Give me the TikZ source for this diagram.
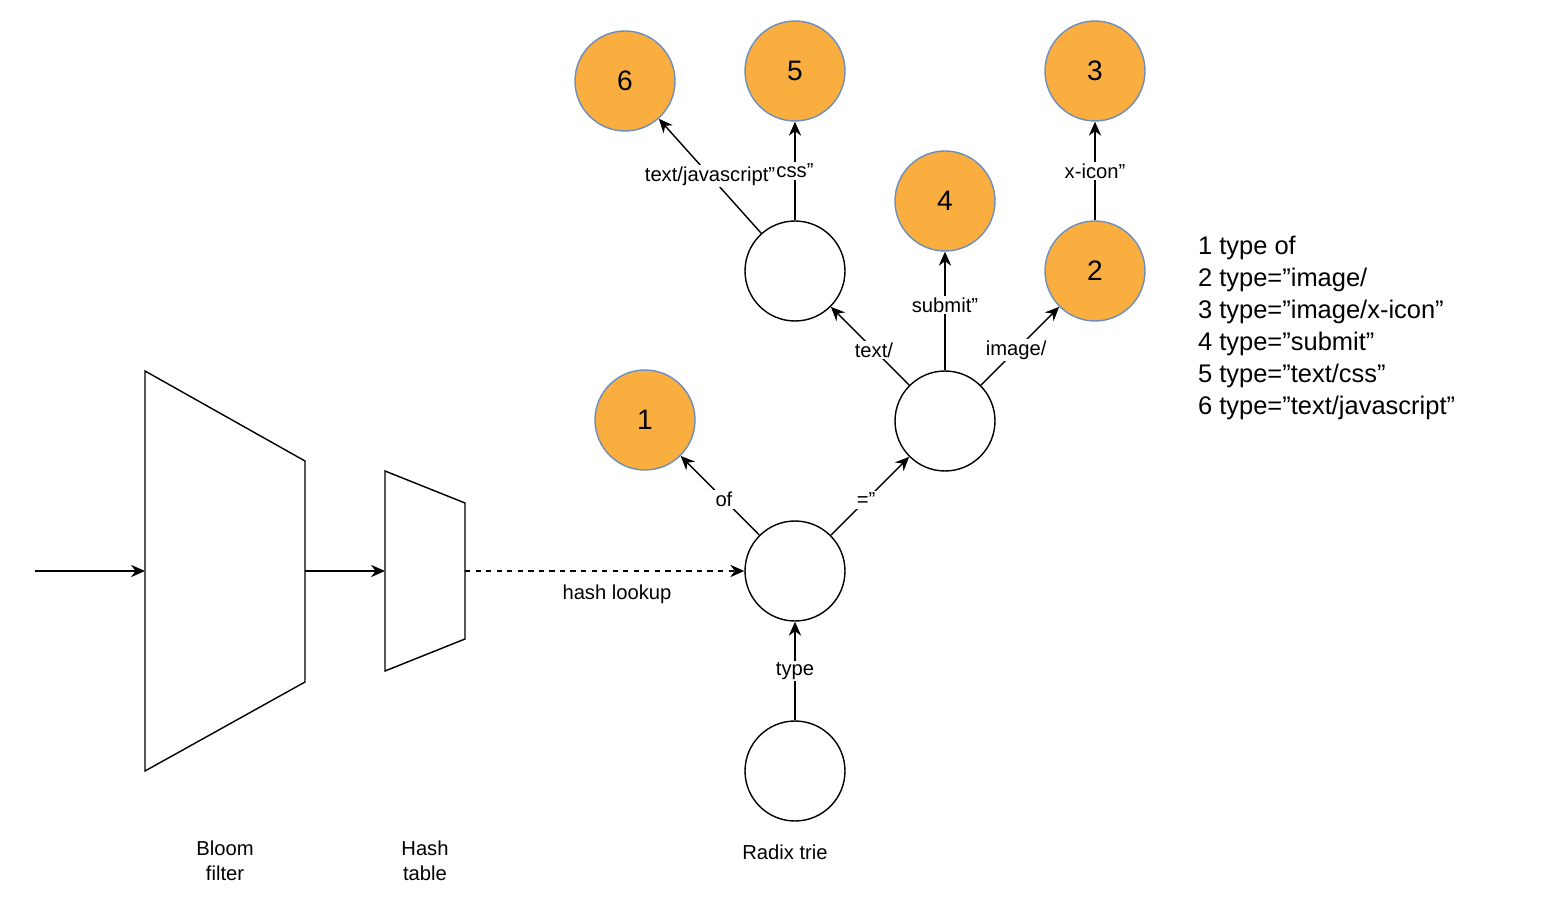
\documentclass[tikz,border=0pt]{standalone}
\usepackage{fontspec}
\setmainfont{Liberation Sans}
\usetikzlibrary{arrows.meta}
\definecolor{leaforange}{HTML}{F9AE3F}
\definecolor{leafedge}{HTML}{6C8EBF}
\begin{document}
\begin{tikzpicture}[x=0.02cm,y=-0.02cm]
\tikzset{every node/.style={inner sep=1pt},
  trie/.style={circle,draw=black,thick,fill=white,minimum size=2cm},
  leaf/.style={circle,draw=leafedge,thick,fill=leaforange,minimum size=2cm,font=\fontsize{16}{18}\selectfont},
  edge/.style={thick,-{Stealth[length=8pt,width=7pt]}},
  elabel/.style={fill=white,font=\fontsize{11.5}{13}\selectfont}}
\useasboundingbox (0,0) rectangle (1556,912);
% radix trie nodes
\node[trie] (root) at (795,571) {};
\node[trie] (bot) at (795,771) {};
\node[trie] (eq) at (945,421) {};
\node[trie] (txt) at (795,271) {};
\node[leaf] (n1) at (645,420) {1};
\node[leaf] (n2) at (1095,271) {2};
\node[leaf] (n3) at (1095,71) {3};
\node[leaf] (n4) at (945,201) {4};
\node[leaf] (n5) at (795,71) {5};
\node[leaf] (n6) at (625,81) {6};
% trie edges
\draw[edge] (bot) -- node[elabel,pos=0.5] {type} (root);
\draw[edge] (root) -- node[elabel,pos=0.45] {of} (n1);
\draw[edge] (root) -- node[elabel,pos=0.45] {="} (eq);
\draw[edge] (eq) -- node[elabel,pos=0.45] {text/} (txt);
\draw[edge] (eq) -- node[elabel,pos=0.55] {submit"} (n4);
\draw[edge] (eq) -- node[elabel,pos=0.45] {image/} (n2);
\draw[edge] (txt) -- node[elabel,pos=0.5] {text/javascript"} (n6);
\draw[edge] (txt) -- node[elabel,pos=0.5] {css"} (n5);
\draw[edge] (n2) -- node[elabel,pos=0.5] {x-icon"} (n3);
% filters
\draw[thick] (145,371) -- (305,461) -- (305,682) -- (145,771) -- cycle;
\draw[thick] (385,471) -- (465,503) -- (465,639) -- (385,671) -- cycle;
\coordinate (in) at (35,571);
\coordinate (bfout) at (305,571);
\coordinate (htin) at (385,571);
\coordinate (htout) at (465,571);
\draw[edge] (in) -- (145,571);
\draw[edge] (bfout) -- (htin);
\draw[edge,dashed] (htout) -- (root);
\node[font=\fontsize{11.5}{13}\selectfont] (hl) at (617,594) {hash lookup};
\node[align=center,font=\fontsize{11.5}{14}\selectfont] (bf) at (225,861) {Bloom\\filter};
\node[align=center,font=\fontsize{11.5}{14}\selectfont] (ht) at (425,861) {Hash\\table};
\node[font=\fontsize{11.5}{13}\selectfont] (rt) at (785,852) {Radix trie};
% legend
\node[anchor=north west,align=left,font=\fontsize{14.5}{18.2}\selectfont] (legend) at (1196,234)
 {1 type of\\2 type="image/\\3 type="image/x-icon"\\4 type="submit"\\5 type="text/css"\\6 type="text/javascript"};
\end{tikzpicture}
\end{document}
